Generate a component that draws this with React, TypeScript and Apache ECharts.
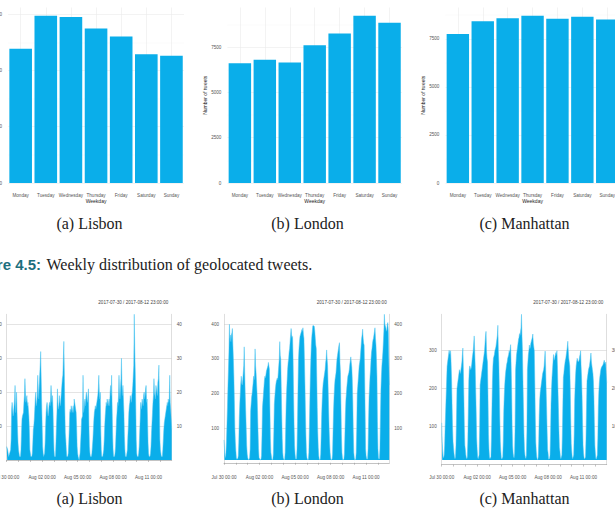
import React, { useEffect, useRef } from "react";
import * as echarts from "echarts";

// ---- Weekly totals (Figure 4.5) ----
const WEEKDAYS = ["Monday", "Tuesday", "Wednesday", "Thursday", "Friday", "Saturday", "Sunday"];
const LISBON_WEEKLY = [477, 594, 590, 549, 521, 458, 452];
const LONDON_WEEKLY = [6618, 6801, 6654, 7610, 8254, 9228, 8842];
const MANHATTAN_WEEKLY = [7760, 8420, 8576, 8698, 8542, 8646, 8507];

// ---- Hourly counts, one row per day, 2017-07-30 .. 2017-08-12 ----
const LISBON_HOURLY = [
  [4, 4, 3, 2, 1, 1, 2, 2, 3, 6, 15, 17, 15, 13, 14, 16, 18, 22, 14, 17, 20, 14, 9, 5],
  [3, 2, 1, 1, 1, 3, 8, 12, 13, 13, 14, 17, 19, 24, 20, 17, 18, 19, 16, 17, 15, 13, 9, 3],
  [2, 1, 1, 1, 2, 5, 9, 10, 12, 15, 18, 20, 16, 17, 19, 25, 21, 18, 22, 25, 28, 32, 24, 17],
  [10, 4, 2, 1, 1, 2, 5, 10, 14, 16, 17, 15, 13, 14, 16, 17, 16, 18, 22, 19, 17, 19, 15, 8],
  [3, 1, 1, 1, 5, 10, 14, 21, 17, 15, 16, 19, 17, 16, 18, 20, 22, 24, 25, 25, 35, 26, 15, 8],
  [6, 3, 1, 1, 1, 2, 5, 9, 14, 15, 14, 16, 15, 14, 15, 16, 14, 18, 17, 16, 16, 14, 10, 4],
  [2, 1, 1, 0, 1, 2, 5, 8, 12, 12, 13, 25, 14, 15, 17, 18, 16, 19, 20, 18, 17, 19, 21, 10],
  [4, 2, 1, 1, 1, 2, 4, 6, 9, 12, 14, 15, 16, 15, 16, 17, 18, 19, 21, 25, 20, 18, 20, 9],
  [3, 1, 1, 1, 2, 3, 6, 10, 13, 15, 17, 16, 18, 17, 16, 17, 18, 16, 20, 22, 19, 25, 16, 8],
  [3, 1, 1, 1, 2, 4, 8, 12, 14, 17, 16, 19, 25, 20, 18, 21, 24, 30, 22, 19, 22, 18, 14, 7],
  [3, 1, 1, 1, 1, 3, 7, 10, 14, 16, 17, 19, 18, 17, 19, 20, 22, 25, 28, 43, 33, 26, 17, 6],
  [2, 1, 1, 1, 2, 4, 8, 12, 17, 15, 16, 18, 17, 16, 19, 20, 18, 19, 21, 22, 17, 18, 12, 5],
  [2, 1, 1, 1, 2, 4, 8, 11, 14, 17, 19, 24, 20, 19, 18, 22, 21, 20, 19, 23, 24, 28, 17, 6],
  [3, 2, 1, 1, 1, 3, 6, 9, 11, 12, 13, 14, 15, 16, 17, 16, 18, 17, 18, 25, 17, 15, 12, 9],
];

const LONDON_HOURLY = [
  [66, 40, 20, 15, 30, 60, 110, 160, 220, 270, 320, 400, 360, 369, 350, 370, 375, 388, 340, 300, 250, 180, 100, 60],
  [35, 15, 10, 10, 12, 20, 60, 130, 170, 200, 230, 250, 230, 225, 240, 260, 280, 335, 260, 200, 150, 100, 50, 25],
  [15, 10, 8, 10, 15, 40, 150, 170, 190, 200, 215, 230, 250, 240, 260, 329, 280, 260, 260, 200, 150, 90, 40, 15],
  [12, 8, 8, 10, 20, 80, 160, 180, 200, 220, 240, 250, 245, 255, 265, 270, 275, 280, 290, 280, 270, 160, 70, 30],
  [20, 10, 8, 10, 25, 90, 170, 190, 210, 225, 235, 240, 245, 240, 260, 280, 300, 350, 310, 300, 220, 140, 70, 30],
  [15, 10, 8, 10, 30, 100, 170, 210, 240, 270, 290, 300, 320, 330, 350, 370, 388, 370, 360, 365, 300, 200, 110, 50],
  [25, 12, 10, 12, 40, 120, 220, 300, 330, 350, 365, 370, 375, 380, 385, 380, 390, 370, 360, 300, 230, 150, 80, 30],
  [15, 10, 8, 10, 30, 100, 180, 250, 300, 340, 365, 380, 396, 395, 396, 394, 380, 360, 340, 330, 250, 160, 90, 45],
  [20, 10, 8, 10, 25, 80, 140, 180, 210, 230, 240, 250, 260, 270, 290, 300, 326, 300, 280, 220, 160, 100, 60, 30],
  [15, 8, 8, 10, 25, 90, 150, 190, 220, 240, 250, 260, 280, 300, 310, 320, 330, 340, 347, 290, 260, 170, 80, 30],
  [15, 8, 8, 10, 25, 80, 140, 180, 200, 220, 235, 250, 255, 260, 270, 285, 295, 306, 290, 275, 240, 180, 90, 30],
  [15, 8, 8, 10, 30, 100, 200, 220, 240, 260, 280, 290, 300, 320, 340, 360, 370, 386, 360, 345, 340, 260, 150, 40],
  [20, 12, 10, 12, 40, 120, 190, 220, 250, 270, 300, 320, 330, 345, 355, 360, 370, 380, 390, 360, 340, 300, 250, 120],
  [40, 15, 10, 12, 40, 130, 210, 250, 280, 300, 320, 350, 380, 429, 400, 395, 390, 380, 385, 400, 405, 380, 300, 225],
];

const MANHATTAN_HOURLY = [
  [110, 60, 35, 20, 18, 25, 50, 100, 140, 180, 220, 259, 270, 280, 290, 301, 295, 290, 300, 270, 230, 160, 100, 60],
  [45, 30, 20, 15, 20, 50, 120, 200, 210, 220, 230, 240, 250, 245, 240, 250, 260, 270, 290, 307, 250, 180, 100, 50],
  [40, 25, 18, 15, 20, 60, 140, 220, 250, 260, 255, 250, 255, 265, 280, 290, 300, 320, 339, 300, 260, 200, 140, 70],
  [40, 20, 15, 15, 25, 90, 210, 220, 230, 240, 250, 260, 270, 280, 290, 300, 320, 340, 351, 300, 280, 270, 180, 80],
  [40, 20, 15, 14, 20, 70, 150, 220, 260, 280, 285, 290, 300, 305, 310, 320, 330, 340, 367, 300, 270, 200, 120, 60],
  [35, 18, 14, 15, 20, 60, 140, 180, 210, 230, 245, 255, 265, 270, 280, 285, 290, 300, 295, 305, 316, 260, 200, 100],
  [50, 30, 20, 18, 30, 100, 250, 270, 290, 300, 310, 320, 330, 335, 345, 340, 350, 360, 396, 340, 300, 220, 150, 80],
  [40, 25, 18, 16, 25, 90, 250, 270, 290, 300, 315, 305, 310, 320, 325, 330, 335, 344, 320, 310, 300, 220, 130, 60],
  [35, 20, 14, 12, 20, 60, 130, 170, 190, 200, 210, 220, 230, 240, 245, 250, 260, 280, 299, 260, 200, 150, 90, 40],
  [30, 14, 13, 15, 25, 80, 160, 200, 230, 250, 270, 290, 280, 275, 285, 290, 295, 290, 300, 260, 200, 150, 90, 45],
  [35, 20, 15, 14, 25, 80, 160, 230, 240, 255, 265, 275, 280, 290, 300, 310, 325, 300, 280, 270, 260, 200, 120, 55],
  [35, 20, 15, 14, 25, 80, 170, 210, 240, 260, 270, 280, 275, 270, 270, 275, 285, 290, 300, 260, 230, 180, 110, 50],
  [30, 18, 14, 13, 20, 70, 150, 220, 230, 240, 250, 255, 260, 270, 280, 294, 270, 260, 250, 240, 220, 180, 110, 50],
  [30, 16, 14, 15, 25, 70, 150, 190, 215, 230, 240, 250, 255, 258, 260, 262, 265, 270, 275, 268, 265, 270, 240, 215],
];

const PERIOD_LABEL = "2017-07-30 / 2017-08-12 23:00:00";
const MONTHS = ["Jan", "Feb", "Mar", "Apr", "May", "Jun", "Jul", "Aug", "Sep", "Oct", "Nov", "Dec"];
const SERIES_START = Date.UTC(2017, 6, 30, 0, 0, 0);

const SUB_CAPTIONS = ["(a) Lisbon", "(b) London", "(c) Manhattan"];
const FIGURE_LABEL = "Figure 4.5:";
const FIGURE_CAPTION = "Weekly distribution of geolocated tweets.";

const BLUE = "#0aaeea";
const SANS = "'Liberation Sans', Arial, Helvetica, sans-serif";
const SERIF = "'Liberation Serif', 'Times New Roman', serif";

const pad2 = (n: number) => String(n).padStart(2, "0");
const plain = (v: number) => String(v);

function hourLabels(count: number): string[] {
  const out: string[] = [];
  for (let i = 0; i < count; i++) {
    const d = new Date(SERIES_START + i * 3600 * 1000);
    out.push(`${MONTHS[d.getUTCMonth()]} ${pad2(d.getUTCDate())} ${pad2(d.getUTCHours())}:00`);
  }
  return out;
}

function buildOption() {
  const grid: any[] = [];
  const xAxis: any[] = [];
  const yAxis: any[] = [];
  const series: any[] = [];
  const graphic: any[] = [];

  // ---- top row: weekly bar charts ----
  const weekly = [
    { values: LISBON_WEEKLY, left: 8.1, width: 175.9, interval: 200 },
    { values: LONDON_WEEKLY, left: 227.4, width: 174.6, interval: 2500 },
    { values: MANHATTAN_WEEKLY, left: 445.4, width: 174.3, interval: 2500 },
  ];
  const TOP = 7.5;
  const TOP_H = 175.5;

  weekly.forEach((p, i) => {
    grid.push({ left: p.left, top: TOP, width: p.width, height: TOP_H, outerBoundsMode: "none" });
    xAxis.push({
      gridIndex: i,
      type: "category",
      data: WEEKDAYS,
      name: "Weekday",
      nameLocation: "middle",
      nameGap: 15,
      nameTextStyle: { fontSize: 5, color: "#222", fontFamily: SANS },
      axisLine: { show: false },
      axisTick: { show: false },
      splitLine: { show: false },
      axisLabel: { interval: 0, fontSize: 4.6, color: "#555", fontFamily: SANS, margin: 9.7 },
    });
    yAxis.push({
      gridIndex: i,
      type: "value",
      min: 0,
      max: Math.max(...p.values) * 1.05,
      interval: p.interval,
      name: "Number of tweets",
      nameLocation: "middle",
      nameRotate: 90,
      nameGap: 14,
      nameTextStyle: { fontSize: 5, color: "#222", fontFamily: SANS },
      axisLine: { show: false },
      axisTick: { show: false },
      axisLabel: {
        fontSize: 4.6,
        color: "#555",
        fontFamily: SANS,
        margin: 6,
        showMaxLabel: false,
        formatter: plain,
      },
      splitLine: { show: true, showMaxLine: false, lineStyle: { color: "#ebebeb", width: 0.6 } },
      minorTick: { show: false, splitNumber: 2 },
      minorSplitLine: { show: true, lineStyle: { color: "#f4f4f4", width: 0.4 } },
    });
    series.push({
      type: "bar",
      xAxisIndex: i,
      yAxisIndex: i,
      data: p.values,
      barCategoryGap: "10%",
      itemStyle: { color: BLUE },
      silent: true,
      markLine: {
        silent: true,
        z: 1,
        symbol: "none",
        label: { show: false },
        lineStyle: { color: "#ebebeb", width: 0.6, type: "solid" },
        data: WEEKDAYS.map((d) => ({ xAxis: d })),
      },
    });
  });

  // ---- bottom row: hourly time series ----
  const labels = hourLabels(LISBON_HOURLY.length * 24);
  const hourly = [
    { rows: LISBON_HOURLY, left: 6.7, width: 165, interval: 10, titleX: 168.3 },
    { rows: LONDON_HOURLY, left: 224, width: 165.3, interval: 100, titleX: 386.7 },
    { rows: MANHATTAN_HOURLY, left: 441.7, width: 165, interval: 100, titleX: 603.3 },
  ];
  const PLOT_TOP = 314.3;
  const PLOT_BOTTOM = 460;
  const AXIS_Y = 467.3;

  hourly.forEach((p, j) => {
    const values = p.rows.flat();
    const lo = Math.min(...values);
    const hi = Math.max(...values);
    const pxPerUnit = (PLOT_BOTTOM - PLOT_TOP) / (hi - lo);
    const height = hi * pxPerUnit;
    const zeroY = PLOT_TOP + height;
    const gi = 3 + j;
    grid.push({ left: p.left, top: PLOT_TOP, width: p.width, height, outerBoundsMode: "none" });
    xAxis.push({
      gridIndex: gi,
      type: "category",
      data: labels,
      boundaryGap: false,
      offset: AXIS_Y - zeroY,
      axisLine: { show: true, lineStyle: { color: "#9a9a9a", width: 0.6 } },
      axisTick: {
        show: true,
        length: 2,
        interval: (idx: number) => idx % 24 === 0,
        lineStyle: { color: "#9a9a9a", width: 0.6 },
      },
      axisLabel: {
        interval: (idx: number) => idx % 72 === 0,
        fontSize: 4.6,
        color: "#555",
        fontFamily: SANS,
        margin: 8,
      },
      splitLine: { show: false },
    });
    const sideAxis = (position: string, withGrid: boolean) => ({
      gridIndex: gi,
      type: "value",
      position,
      min: 0,
      max: hi,
      interval: p.interval,
      axisLine: { show: true, lineStyle: { color: "#c8c8c8", width: 0.6 } },
      axisTick: { show: false },
      axisLabel: {
        fontSize: 4.6,
        color: "#555",
        fontFamily: SANS,
        margin: 5,
        showMinLabel: false,
        showMaxLabel: false,
        formatter: plain,
      },
      splitLine: {
        show: withGrid,
        showMinLine: false,
        showMaxLine: false,
        lineStyle: { color: "#d2d2d2", width: 0.6 },
      },
    });
    const yLeft = yAxis.length;
    yAxis.push(sideAxis("left", true));
    yAxis.push(sideAxis("right", false));
    series.push({
      type: "line",
      xAxisIndex: gi,
      yAxisIndex: yLeft,
      data: values,
      showSymbol: false,
      silent: true,
      lineStyle: { color: "#4cc4f0", width: 0.5 },
      areaStyle: { color: BLUE, opacity: 1, origin: lo },
    });
    graphic.push({
      type: "text",
      x: p.titleX,
      y: 302.7,
      style: {
        text: PERIOD_LABEL,
        fontSize: 4.6,
        fontFamily: SANS,
        fill: "#444",
        align: "right",
        textAlign: "right",
        verticalAlign: "middle",
        textVerticalAlign: "middle",
      },
    });
  });

  // ---- captions ----
  const capX = [89.5, 307.5, 524.5];
  const caption = (text: string, x: number, y: number, align: string, extra: any = {}) => ({
    type: "text",
    x,
    y,
    style: {
      text,
      fontSize: 16,
      fontFamily: SERIF,
      fill: "#222",
      align,
      textAlign: align,
      verticalAlign: "middle",
      textVerticalAlign: "middle",
      ...extra,
    },
  });
  SUB_CAPTIONS.forEach((t, k) => {
    graphic.push(caption(t, capX[k], 223, "center"));
    graphic.push(caption(t, capX[k], 498, "center"));
  });
  graphic.push(
    caption(FIGURE_LABEL, 41, 264, "right", {
      fill: "#1d6f7e",
      fontWeight: "bold",
      fontFamily: SANS,
      fontSize: 15,
    })
  );
  graphic.push(caption(FIGURE_CAPTION, 46.5, 264, "left"));

  return {
    animation: false,
    backgroundColor: "#ffffff",
    textStyle: { fontFamily: SANS },
    grid,
    xAxis,
    yAxis,
    series,
    graphic,
  };
}

export default function App() {
  const ref = useRef<HTMLDivElement>(null);
  useEffect(() => {
    if (!ref.current) return;
    const chart = echarts.init(ref.current, null, { renderer: "svg" });
    chart.setOption(buildOption() as any);
    return () => chart.dispose();
  }, []);
  return (
    <div
      ref={ref}
      style={{ position: "absolute", left: 0, top: 0, width: 615, height: 508, background: "#fff" }}
    />
  );
}
